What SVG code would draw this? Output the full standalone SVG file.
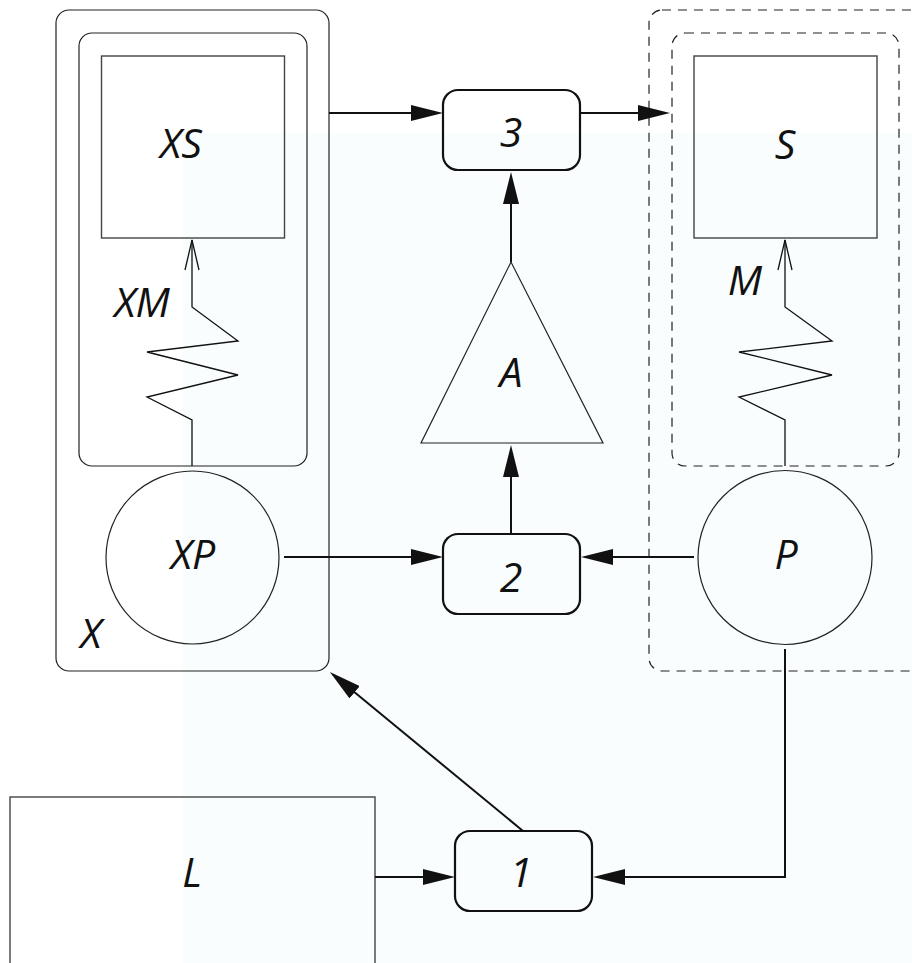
<svg xmlns="http://www.w3.org/2000/svg" width="912" height="963" viewBox="0 0 912 963">
<style>
.thin{fill:none;stroke:#222;stroke-width:1.2}
.sq{fill:none;stroke:#444;stroke-width:1.4}
.dash{fill:none;stroke:#222;stroke-width:1.2;stroke-dasharray:9 7}
.box{fill:none;stroke:#111;stroke-width:2.2}
.conn{fill:none;stroke:#111;stroke-width:2}
.spring{fill:none;stroke:#111;stroke-width:1.3}
.lbl{font-family:"Open Sans","Noto Sans","DejaVu Sans",sans-serif;font-style:italic;font-size:41px;fill:#111;text-anchor:middle}
</style>
<defs>
<marker id="ah" markerUnits="userSpaceOnUse" markerWidth="32" markerHeight="16" viewBox="0 0 32 16" refX="28" refY="8" orient="auto">
<path d="M0,0 L32,8 L0,16 z" fill="#111"/>
</marker>
<marker id="oh" markerUnits="userSpaceOnUse" markerWidth="32" markerHeight="16" viewBox="0 0 32 16" refX="31" refY="8" orient="auto">
<path d="M1,1 L31,8 L1,15" fill="none" stroke="#111" stroke-width="1.3"/>
</marker>
</defs>
<rect x="0" y="0" width="912" height="963" fill="#ffffff"/>
<rect x="183" y="133" width="729" height="830" fill="#f9fdfd"/>

<g id="X">
<rect class="thin" x="56" y="10" width="273" height="661" rx="13"/>
<text class="lbl" x="91" y="648">X</text>
</g>
<g id="XInner">
<rect class="thin" x="79" y="33" width="228" height="433" rx="13"/>
</g>
<g id="XS">
<rect class="sq" x="101.5" y="56" width="183" height="182"/>
<text class="lbl" x="181" y="158">XS</text>
</g>
<g id="XM">
<polyline class="spring" points="192,466 192,420 147,397 238,375 147,352 238,341 192,307 192,240" marker-end="url(#oh)"/>
<text class="lbl" x="142" y="317">XM</text>
</g>
<g id="XP">
<circle class="thin" cx="192.5" cy="557.5" r="86.5"/>
<text class="lbl" x="193" y="569">XP</text>
</g>

<g id="SOuter">
<rect class="dash" x="649" y="10" width="300" height="661" rx="13"/>
</g>
<g id="SInner">
<rect class="dash" x="672" y="33" width="227" height="433" rx="13"/>
</g>
<g id="S">
<rect class="sq" x="694" y="56" width="183" height="182"/>
<text class="lbl" x="785" y="159">S</text>
</g>
<g id="M">
<polyline class="spring" points="785,466 785,420 739,397 832,375 739,352 832,341 785,307 785,240" marker-end="url(#oh)"/>
<text class="lbl" x="745" y="295">M</text>
</g>
<g id="P">
<circle class="thin" cx="785" cy="557.5" r="87"/>
<text class="lbl" x="786" y="569">P</text>
</g>

<g id="n3">
<rect class="box" x="443" y="90" width="137" height="80" rx="15"/>
<text class="lbl" x="511" y="147">3</text>
</g>
<g id="n2">
<rect class="box" x="443" y="534" width="137" height="80" rx="15"/>
<text class="lbl" x="511" y="592">2</text>
</g>
<g id="n1">
<rect class="box" x="455" y="831" width="137" height="80" rx="15"/>
<text class="lbl" x="521" y="887">1</text>
</g>
<g id="A">
<polygon class="thin" points="511,262 421,443 603,443"/>
<text class="lbl" x="511" y="387">A</text>
</g>
<g id="L">
<rect class="sq" x="10" y="797" width="365" height="200"/>
<text class="lbl" x="192" y="887">L</text>
</g>

<g id="connectors">
<line class="conn" x1="329" y1="113" x2="439" y2="113" marker-end="url(#ah)"/>
<line class="conn" x1="580" y1="113" x2="666" y2="113" marker-end="url(#ah)"/>
<line class="conn" x1="511" y1="262" x2="511" y2="176" marker-end="url(#ah)"/>
<line class="conn" x1="511" y1="534" x2="511" y2="449" marker-end="url(#ah)"/>
<line class="conn" x1="284" y1="557" x2="439" y2="557" marker-end="url(#ah)"/>
<line class="conn" x1="694" y1="557" x2="585" y2="557" marker-end="url(#ah)"/>
<line class="conn" x1="375" y1="877" x2="451" y2="877" marker-end="url(#ah)"/>
<polyline class="conn" points="785,649 785,877 597,877" marker-end="url(#ah)"/>
<line class="conn" x1="523" y1="831" x2="333" y2="674.5" marker-end="url(#ah)"/>
</g>
</svg>
